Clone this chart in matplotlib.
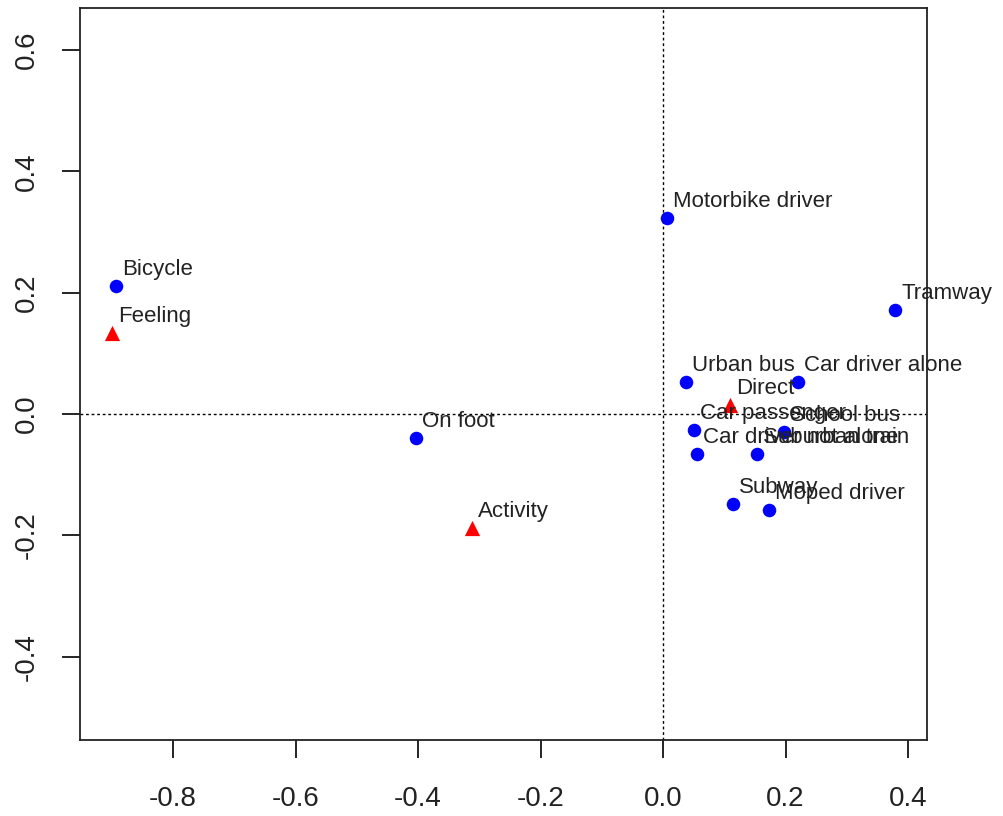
import matplotlib
matplotlib.use("Agg")
import matplotlib.pyplot as plt

plt.rcParams['font.family'] = ['Liberation Sans', 'DejaVu Sans']

# Transport modes (blue dots)
modes = ["Bicycle", "On foot", "Motorbike driver", "Tramway", "Urban bus",
         "Car driver alone", "Car passenger", "School bus", "Car driver not alone",
         "Suburban train", "Subway", "Moped driver"]
mode_x = [-0.893, -0.403, 0.006, 0.379, 0.037, 0.220, 0.051, 0.198, 0.055,
          0.153, 0.114, 0.173]
mode_y = [0.211, -0.040, 0.323, 0.171, 0.053, 0.053, -0.026, -0.030, -0.066,
          -0.066, -0.148, -0.158]

# Motives (red triangles)
motives = ["Feeling", "Activity", "Direct"]
motive_x = [-0.900, -0.312, 0.109]
motive_y = [0.133, -0.188, 0.015]

xticks = [-0.8, -0.6, -0.4, -0.2, 0.0, 0.2, 0.4]
yticks = [-0.4, -0.2, 0.0, 0.2, 0.4, 0.6]

fig = plt.figure(figsize=(10.04, 8.16), dpi=100)
ax = fig.add_axes([0.0797, 0.0931, 0.8436, 0.8971])

ax.axhline(0, color="black", linestyle=(0, (2, 2)), linewidth=1.0, zorder=1)
ax.axvline(0, color="black", linestyle=(0, (2, 2)), linewidth=1.0, zorder=1)

ax.scatter(mode_x, mode_y, s=95, marker="o", color="#0000ff", linewidths=0, zorder=3)
ax.scatter(motive_x, motive_y, s=120, marker="^", color="#ff0000", linewidths=0, zorder=3)

for name, x, y in list(zip(modes, mode_x, mode_y)) + list(zip(motives, motive_x, motive_y)):
    ax.annotate(name, (x, y), xytext=(6, 11), textcoords="offset pixels",
                ha="left", va="baseline", fontsize=16, color="#222222", zorder=4)

ax.set_xlim(-0.952, 0.431)
ax.set_ylim(-0.537, 0.669)
ax.set_xticks(xticks)
ax.set_xticklabels([f"{v:.1f}" for v in xticks])
ax.set_yticks(yticks)
ax.set_yticklabels([f"{v:.1f}" for v in yticks], rotation=90, va="center")

ax.tick_params(axis="both", length=13, width=1.2, labelsize=20, color="black",
               labelcolor="#222222")
ax.tick_params(axis="x", pad=20)
ax.tick_params(axis="y", pad=16)
for sp in ax.spines.values():
    sp.set_linewidth(1.3)
    sp.set_color("#222222")

fig.savefig("out.png", dpi=100)
